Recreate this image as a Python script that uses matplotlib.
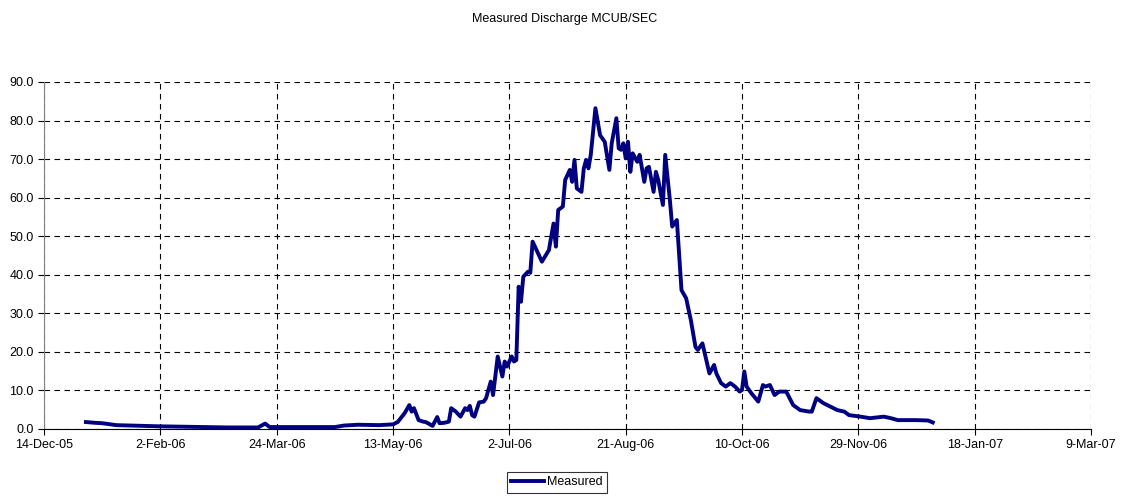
import matplotlib
matplotlib.use('Agg')
import matplotlib.pyplot as plt
import matplotlib.dates as mdates
from matplotlib.ticker import FuncFormatter, MultipleLocator
import pandas as pd

# measured discharge
dates = ['2006-01-01', '2006-01-05', '2006-01-08', '2006-01-14', '2006-02-01',
         '2006-03-03', '2006-03-16', '2006-03-19', '2006-03-21', '2006-04-18',
         '2006-04-22', '2006-04-28', '2006-05-07', '2006-05-13', '2006-05-15',
         '2006-05-18', '2006-05-20', '2006-05-21', '2006-05-22', '2006-05-24',
         '2006-05-26', '2006-05-27', '2006-05-28', '2006-05-30', '2006-06-01',
         '2006-06-02', '2006-06-04', '2006-06-06', '2006-06-07', '2006-06-09',
         '2006-06-11', '2006-06-13', '2006-06-14', '2006-06-15', '2006-06-16',
         '2006-06-17', '2006-06-19', '2006-06-21', '2006-06-22', '2006-06-24',
         '2006-06-25', '2006-06-27', '2006-06-29', '2006-06-30', '2006-07-01',
         '2006-07-03', '2006-07-04', '2006-07-05', '2006-07-06', '2006-07-07',
         '2006-07-08', '2006-07-10', '2006-07-11', '2006-07-12', '2006-07-15',
         '2006-07-16', '2006-07-19', '2006-07-21', '2006-07-22', '2006-07-23',
         '2006-07-25', '2006-07-26', '2006-07-28', '2006-07-29', '2006-07-30',
         '2006-07-31', '2006-08-02', '2006-08-03', '2006-08-04', '2006-08-05',
         '2006-08-06', '2006-08-08', '2006-08-10', '2006-08-12', '2006-08-14',
         '2006-08-15', '2006-08-17', '2006-08-18', '2006-08-19', '2006-08-20',
         '2006-08-21', '2006-08-22', '2006-08-23', '2006-08-24', '2006-08-26',
         '2006-08-27', '2006-08-29', '2006-08-30', '2006-08-31', '2006-09-02',
         '2006-09-03', '2006-09-04', '2006-09-06', '2006-09-07', '2006-09-09',
         '2006-09-10', '2006-09-12', '2006-09-14', '2006-09-16', '2006-09-18',
         '2006-09-20', '2006-09-21', '2006-09-23', '2006-09-26', '2006-09-28',
         '2006-09-29', '2006-10-01', '2006-10-03', '2006-10-05', '2006-10-07',
         '2006-10-09', '2006-10-10', '2006-10-11', '2006-10-12', '2006-10-14',
         '2006-10-17', '2006-10-19', '2006-10-20', '2006-10-22', '2006-10-24',
         '2006-10-26', '2006-10-29', '2006-11-01', '2006-11-04', '2006-11-08',
         '2006-11-09', '2006-11-11', '2006-11-14', '2006-11-20', '2006-11-23',
         '2006-11-25', '2006-11-30', '2006-12-04', '2006-12-10', '2006-12-13',
         '2006-12-16', '2006-12-20', '2006-12-24', '2006-12-29', '2006-12-31']

measured = [1.8, 1.6, 1.5, 1.0, 0.7,
            0.4, 0.4, 1.4, 0.5, 0.5,
            0.9, 1.1, 1.0, 1.2, 1.8,
            4.1, 6.2, 4.5, 5.4, 2.3,
            1.9, 1.8, 1.5, 0.8, 3.1,
            1.5, 1.6, 1.9, 5.4, 4.5,
            3.2, 5.4, 4.9, 6.0, 3.6,
            3.2, 6.9, 7.1, 8.0, 12.3,
            8.8, 18.8, 13.6, 17.5, 16.2,
            18.8, 17.5, 17.9, 36.9, 33.0,
            39.5, 40.8, 40.5, 48.6, 44.7,
            43.4, 46.4, 53.3, 47.3, 56.8,
            57.7, 64.6, 67.2, 64.1, 69.8,
            62.4, 61.5, 67.6, 69.8, 67.6,
            71.1, 83.2, 76.2, 74.5, 67.2,
            74.1, 80.6, 72.8, 72.4, 74.1,
            70.2, 74.5, 66.7, 71.5, 69.3,
            71.1, 64.1, 67.6, 68.0, 61.5,
            66.7, 64.6, 58.1, 71.1, 59.4,
            52.5, 54.2, 36.0, 33.9, 28.3,
            21.3, 20.5, 22.2, 14.4, 16.6,
            14.4, 11.9, 11.0, 11.9, 11.0,
            9.7, 10.1, 14.9, 11.0, 9.3,
            7.1, 11.4, 11.0, 11.4, 8.8,
            9.7, 9.7, 6.2, 4.9, 4.5,
            4.5, 8.0, 6.7, 4.9, 4.5,
            3.6, 3.2, 2.8, 3.2, 2.8,
            2.3, 2.3, 2.3, 2.2, 1.7]

x_start = pd.Timestamp('2005-12-14')
x_end = pd.Timestamp('2007-03-09')

plt.rcParams['font.family'] = ['Liberation Sans', 'DejaVu Sans']

fig = plt.figure(figsize=(11.21, 4.96), dpi=100)
ax = fig.add_axes([0.0393, 0.1351, 0.9339, 0.6996])

ax.plot(pd.to_datetime(dates), measured, color='#000080', lw=2.8,
        label='Measured', solid_joinstyle='round')

ax.set_xlim(x_start, x_end)
ax.set_ylim(0, 90)
ax.yaxis.set_major_locator(MultipleLocator(10))
ax.yaxis.set_major_formatter(FuncFormatter(lambda v, p: '%.1f' % v))

xticks = pd.date_range(x_start, x_end, freq='50D')
ax.set_xticks(xticks)
ax.xaxis.set_major_formatter(FuncFormatter(
    lambda v, p: '%d-%s' % (mdates.num2date(v).day, mdates.num2date(v).strftime('%b-%y'))))

ax.grid(True, color='black', linestyle=(0, (5, 4)), linewidth=0.8)
ax.set_axisbelow(True)
for s in ['top', 'right']:
    ax.spines[s].set_visible(False)
ax.spines['left'].set_color('#808080')
ax.spines['bottom'].set_color('black')
ax.tick_params(axis='both', labelsize=9, length=4, direction='out', width=0.8)

fig.text(0.504, 0.962, 'Measured Discharge MCUB/SEC', ha='center', va='center', fontsize=9)

leg = fig.legend(loc='lower center', bbox_to_anchor=(0.497, -0.006), fontsize=9,
                 frameon=True, fancybox=False, edgecolor='black', handlelength=2.6,
                 borderpad=0.35, handletextpad=0.3)
leg.get_frame().set_linewidth(0.8)

plt.savefig('out.png', dpi=100)
